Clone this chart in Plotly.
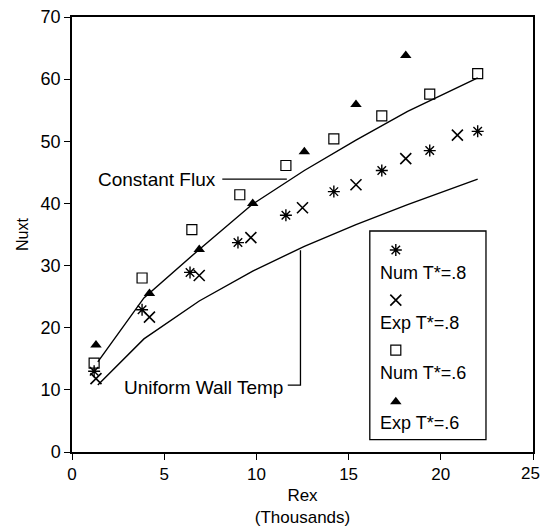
import plotly.graph_objects as go

# ---- data ----
num08_x = [1.2, 3.8, 6.4, 9.0, 11.6, 14.2, 16.8, 19.4, 22.0]
num08_y = [13.0, 22.9, 28.9, 33.7, 38.1, 41.9, 45.3, 48.5, 51.6]

exp08_x = [1.3, 4.2, 6.9, 9.7, 12.5, 15.4, 18.1, 20.9]
exp08_y = [11.8, 21.7, 28.4, 34.5, 39.3, 43.0, 47.2, 51.0]

num06_x = [1.2, 3.8, 6.5, 9.1, 11.6, 14.2, 16.8, 19.4, 22.0]
num06_y = [14.3, 28.0, 35.8, 41.4, 46.1, 50.4, 54.1, 57.6, 60.9]

exp06_x = [1.3, 4.2, 6.9, 9.8, 12.6, 15.4, 18.1]
exp06_y = [17.2, 25.5, 32.6, 40.0, 48.3, 55.9, 63.8]

flux_x = [1.4, 3.9, 6.9, 9.8, 12.6, 15.4, 18.2, 22.0]
flux_y = [14.5, 24.8, 32.6, 39.9, 45.3, 50.2, 54.8, 60.2]

uwt_x = [1.4, 3.9, 6.9, 9.8, 12.6, 15.4, 18.2, 22.0]
uwt_y = [10.8, 18.2, 24.3, 29.1, 33.1, 36.6, 39.8, 43.9]

x_ticks = [0, 5, 10, 15, 20, 25]
y_ticks = [0, 10, 20, 30, 40, 50, 60, 70]

legend_labels = ["Num T*=.8", "Exp T*=.8", "Num T*=.6", "Exp T*=.6"]

FONT = "Liberation Sans, Arial, Helvetica, sans-serif"

fig = go.Figure()

line_style = dict(color="black", width=1.4)
fig.add_trace(go.Scatter(x=flux_x, y=flux_y, mode="lines", line=line_style, showlegend=False))
fig.add_trace(go.Scatter(x=uwt_x, y=uwt_y, mode="lines", line=line_style, showlegend=False))

styles = [
    dict(symbol="asterisk-open", size=10, color="black", line=dict(color="black", width=1.4)),
    dict(symbol="x-thin-open", size=11, color="black", line=dict(color="black", width=1.6)),
    dict(symbol="square-open", size=10, color="black", line=dict(color="black", width=1.2)),
    dict(symbol="triangle-up", size=10, color="black", line=dict(color="black", width=0)),
]
series = [(num08_x, num08_y), (exp08_x, exp08_y), (num06_x, num06_y), (exp06_x, exp06_y)]
for (sx, sy), st in zip(series, styles):
    fig.add_trace(go.Scatter(x=sx, y=sy, mode="markers", marker=st, showlegend=False))

# ---- hand-drawn legend (symbol above label, inside a box) ----
leg_sym_x = 17.56
leg_sym_y = [32.5, 24.45, 16.4, 8.1]
leg_lab_x = 16.6
leg_lab_y = [28.8, 20.7, 12.65, 4.6]
for st, ly in zip(styles, leg_sym_y):
    fig.add_trace(go.Scatter(x=[leg_sym_x], y=[ly], mode="markers", marker=st, showlegend=False))
annotations = []
for lab, ly in zip(legend_labels, leg_lab_y):
    annotations.append(dict(x=leg_lab_x, y=ly, xref="x", yref="y", text=lab, showarrow=False,
                            xanchor="left", yanchor="middle", font=dict(size=18, family=FONT, color="black")))

annotations.append(dict(x=7.9, y=43.9, xref="x", yref="y", text="Constant Flux", showarrow=False,
                        xanchor="right", yanchor="middle", font=dict(size=19, family=FONT, color="black")))
annotations.append(dict(x=11.53, y=10.4, xref="x", yref="y", text="Uniform Wall Temp", showarrow=False,
                        xanchor="right", yanchor="middle", font=dict(size=19, family=FONT, color="black")))

# last x tick label sits at the page edge; drawn as annotation nudged inward so it stays visible
annotations.append(dict(x=x_ticks[-1], y=0, xref="x", yref="y", text=str(x_ticks[-1]), showarrow=False,
                        xanchor="center", yanchor="top", yshift=-11, xshift=-3, borderpad=0,
                        font=dict(size=17, family=FONT, color="black")))

shapes = [
    dict(type="rect", xref="x", yref="y", x0=16.15, x1=22.45, y0=2.0, y1=35.56,
         line=dict(color="black", width=1.3), fillcolor="rgba(0,0,0,0)"),
    dict(type="line", xref="x", yref="y", x0=8.15, x1=11.65, y0=43.9, y1=43.9,
         line=dict(color="black", width=1.3)),
    dict(type="path", xref="x", yref="y", path="M 11.7 10.75 L 12.39 10.75 L 12.39 32.45",
         line=dict(color="black", width=1.3)),
]

axis_common = dict(showgrid=False, zeroline=False, showline=True, linecolor="black", linewidth=1.5,
                   mirror=True, ticks="outside", ticklen=6, tickwidth=1.3, tickcolor="black",
                   automargin=False)

fig.update_layout(
    width=541, height=527,
    margin=dict(l=72, r=8, t=17, b=75),
    paper_bgcolor="white", plot_bgcolor="white",
    font=dict(family=FONT, color="black"),
    xaxis=dict(range=[0, 25], tickvals=x_ticks,
               ticktext=[str(v) if v != x_ticks[-1] else "" for v in x_ticks],
               tickfont=dict(size=17, family=FONT, color="black"),
               title=dict(text="Rex<br>(Thousands)", font=dict(size=17, family=FONT), standoff=8),
               **axis_common),
    yaxis=dict(range=[0, 70], tickvals=y_ticks, ticktext=[str(v) for v in y_ticks],
               tickfont=dict(size=18, family=FONT, color="black"),
               title=dict(text="Nuxt", font=dict(size=16, family=FONT), standoff=8),
               **axis_common),
    annotations=annotations,
    shapes=shapes,
    showlegend=False,
)

fig.write_html("out.html")
